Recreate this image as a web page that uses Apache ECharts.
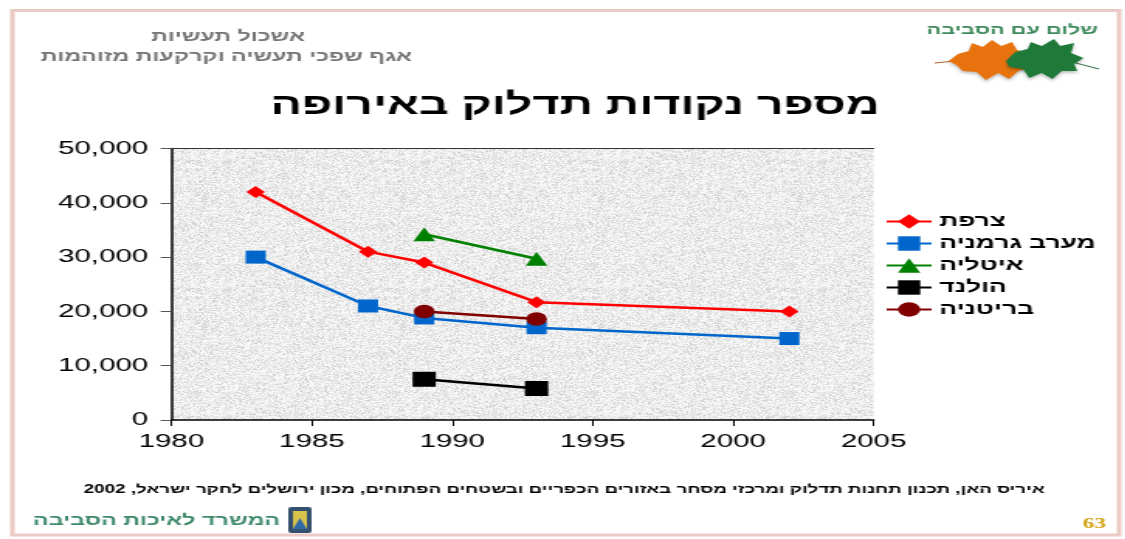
<!DOCTYPE html>
<html>
<head>
<meta charset="utf-8">
<script src="https://cdn.jsdelivr.net/npm/echarts@6/dist/echarts.min.js"></script>
<style>
  html, body { margin: 0; padding: 0; background: #ffffff; overflow: hidden; }
  #wrap { width: 1125px; height: 539px; overflow: hidden; }
  /* the slide is laid out on a narrow page and widened horizontally */
  #chart { width: 726px; height: 539px; transform: scaleX(1.55); transform-origin: 0 0; }
</style>
</head>
<body>
<div id="wrap"><div id="chart"></div></div>
<script>
// Years on the horizontal axis
const xTicks = [1980, 1985, 1990, 1995, 2000, 2005];
const yTicks = [0, 10000, 20000, 30000, 40000, 50000];

// Number of filling stations per country: [year, stations]
const france      = [[1983, 42000], [1987, 31000], [1989, 29000], [1993, 21700], [2002, 20000]];
const westGermany = [[1983, 30000], [1987, 21000], [1989, 18800], [1993, 17000], [2002, 15000]];
const italy       = [[1989, 34200], [1993, 29700]];
const holland     = [[1989, 7500], [1993, 5800]];
const britain     = [[1989, 20000], [1993, 18600]];

const seriesNames = ['צרפת', 'מערב גרמניה', 'איטליה', 'הולנד', 'בריטניה'];

const FONT = '"Liberation Sans", "DejaVu Sans", Arial, sans-serif';

// integer hash giving a fine, even grain
function hash(i, j) {
  let h = (i * 374761393 + j * 668265263) | 0;
  h = Math.imul(h ^ (h >>> 13), 1274126177);
  h = h ^ (h >>> 16);
  return (h >>> 0) / 4294967295;
}

// grey paper grain used as the plot-area fill
function grainPattern() {
  const size = 128;
  const c = document.createElement('canvas');
  c.width = size; c.height = size;
  const ctx = c.getContext('2d');
  const img = ctx.createImageData(size, size);
  for (let j = 0; j < size; j++) {
    for (let i = 0; i < size; i++) {
      const f = hash(i, j);
      const g = Math.round(250 - f * f * 44);
      const k = (j * size + i) * 4;
      img.data[k] = g; img.data[k + 1] = g; img.data[k + 2] = g; img.data[k + 3] = 255;
    }
  }
  ctx.putImageData(img, 0, 0);
  return { image: c, repeat: 'repeat' };
}

const chart = echarts.init(document.getElementById('chart'));

function lineSeries(name, data, color, symbol, size) {
  return {
    name: name,
    type: 'line',
    data: data,
    symbol: symbol,
    symbolSize: size,
    showAllSymbol: true,
    lineStyle: { color: color, width: 2.5 },
    itemStyle: { color: color, borderWidth: 0 },
    emphasis: { disabled: true },
    animation: false
  };
}

// two lobed leaves of the logo
const orangeLeaf = [[612,61],[618,54],[625,51],[627,43],[634,47],[640,40],[646,46],[653,42],[656,50],[663,53],[661,60],[665,67],[657,71],[651,79],[644,73],[636,80],[630,72],[621,71],[617,65]];
const greenLeaf  = [[649,61],[655,52],[663,49],[665,42],[672,46],[680,39],[684,46],[693,43],[691,53],[699,58],[693,64],[695,71],[685,71],[679,79],[672,73],[664,78],[660,69],[651,67]];

chart.setOption({
  backgroundColor: '#ffffff',
  animation: false,
  textStyle: { fontFamily: FONT },
  title: {
    text: 'מספר נקודות תדלוק באירופה',
    left: 366,
    textAlign: 'center',
    top: 86,
    textStyle: { fontFamily: FONT, fontSize: 30, fontWeight: 'bold', color: '#000000' }
  },
  grid: {
    left: 110.6, right: 162.4, top: 148.5, bottom: 119,
    show: true, backgroundColor: grainPattern(), borderWidth: 0
  },
  legend: {
    orient: 'vertical',
    left: 566,
    top: 208,
    itemWidth: 29,
    itemHeight: 18,
    itemGap: 5,
    textStyle: { fontFamily: FONT, fontSize: 17, fontWeight: 'bold', color: '#000000' },
    data: seriesNames
  },
  xAxis: [{
    type: 'value',
    min: xTicks[0], max: xTicks[xTicks.length - 1], interval: 5,
    axisLine: { show: true, lineStyle: { color: '#000000', width: 1.5 } },
    axisTick: { show: true, length: 6, lineStyle: { color: '#000000' } },
    axisLabel: { fontFamily: FONT, fontSize: 19, color: '#000000', margin: 12, formatter: v => String(v) },
    splitLine: { show: false }
  }, {
    type: 'value', position: 'top',
    min: xTicks[0], max: xTicks[xTicks.length - 1],
    axisLine: { show: true, lineStyle: { color: '#333333', width: 1 } },
    axisTick: { show: false }, axisLabel: { show: false }, splitLine: { show: false }
  }],
  yAxis: {
    type: 'value',
    min: yTicks[0], max: yTicks[yTicks.length - 1], interval: 10000,
    axisLine: { show: true, lineStyle: { color: '#000000', width: 1.5 } },
    axisTick: { show: true, length: 7, lineStyle: { color: '#555555' } },
    axisLabel: {
      fontFamily: FONT, fontSize: 19, color: '#000000', margin: 15,
      formatter: v => v.toLocaleString('en-US')
    },
    splitLine: { show: false }
  },
  series: [
    lineSeries(seriesNames[0], france, '#ff0000', 'diamond', 12),
    lineSeries(seriesNames[1], westGermany, '#0066cc', 'rect', 13),
    lineSeries(seriesNames[2], italy, '#008000', 'triangle', 14),
    lineSeries(seriesNames[3], holland, '#000000', 'rect', 15),
    lineSeries(seriesNames[4], britain, '#800000', 'circle', 13.5)
  ],
  graphic: [
    // slide frame
    { type: 'rect', silent: true, z: -1,
      shape: { x: 8, y: 10.5, width: 714, height: 524.5 },
      style: { fill: 'none', stroke: '#ebc9c4', lineWidth: 3 } },
    // header
    { type: 'text', silent: true,
      style: { text: 'אשכול תעשיות', x: 147, y: 37, align: 'center', verticalAlign: 'middle',
               fontFamily: FONT, fontSize: 15, fontWeight: 'bold', fill: '#747474' } },
    { type: 'text', silent: true,
      style: { text: 'אגף שפכי תעשיה וקרקעות מזוהמות', x: 146, y: 57, align: 'center', verticalAlign: 'middle',
               fontFamily: FONT, fontSize: 15, fontWeight: 'bold', fill: '#747474' } },
    // logo top right
    { type: 'text', silent: true,
      style: { text: 'שלום עם הסביבה', x: 653, y: 30, align: 'center', verticalAlign: 'middle',
               fontFamily: FONT, fontSize: 14, fontWeight: 'bold', fill: '#3f8a5c' } },
    { type: 'line', silent: true, shape: { x1: 603, y1: 63, x2: 616, y2: 61 },
      style: { stroke: '#b0602a', lineWidth: 1 } },
    { type: 'line', silent: true, shape: { x1: 694, y1: 63, x2: 709, y2: 69 },
      style: { stroke: '#2f6a3f', lineWidth: 1 } },
    { type: 'polygon', silent: true, shape: { points: orangeLeaf },
      style: { fill: '#e8730e', shadowBlur: 3, shadowColor: 'rgba(0,0,0,0.25)', shadowOffsetY: 2 } },
    { type: 'polygon', silent: true, shape: { points: greenLeaf },
      style: { fill: '#1f7a3a', shadowBlur: 3, shadowColor: 'rgba(0,0,0,0.25)', shadowOffsetY: 2 } },
    // source line
    { type: 'text', silent: true,
      style: { text: 'איריס האן, תכנון תחנות תדלוק ומרכזי מסחר באזורים הכפריים ובשטחים הפתוחים, מכון ירושלים לחקר ישראל, 2002',
               x: 364, y: 490, align: 'center', verticalAlign: 'middle',
               fontFamily: FONT, fontSize: 12.1, fontWeight: 'bold', fill: '#000000' } },
    // ministry footer
    { type: 'text', silent: true,
      style: { text: 'המשרד לאיכות הסביבה', x: 101, y: 521, align: 'center', verticalAlign: 'middle',
               fontFamily: FONT, fontSize: 15, fontWeight: 'bold', fill: '#3f8a6a' } },
    { type: 'rect', silent: true, shape: { x: 186, y: 507, width: 15, height: 26, r: 2 },
      style: { fill: '#34506e' } },
    { type: 'rect', silent: true, shape: { x: 189, y: 511, width: 9, height: 18 },
      style: { fill: '#d9c24a' } },
    { type: 'polygon', silent: true, shape: { points: [[189,529],[193.5,518],[198,529]] },
      style: { fill: '#2e6aa8' } },
    // page number
    { type: 'text', silent: true,
      style: { text: '63', x: 706, y: 524, align: 'center', verticalAlign: 'middle',
               fontFamily: '"Liberation Serif", "DejaVu Serif", serif', fontSize: 15, fontWeight: 'bold', fill: '#d4a312' } }
  ]
});
</script>
</body>
</html>
